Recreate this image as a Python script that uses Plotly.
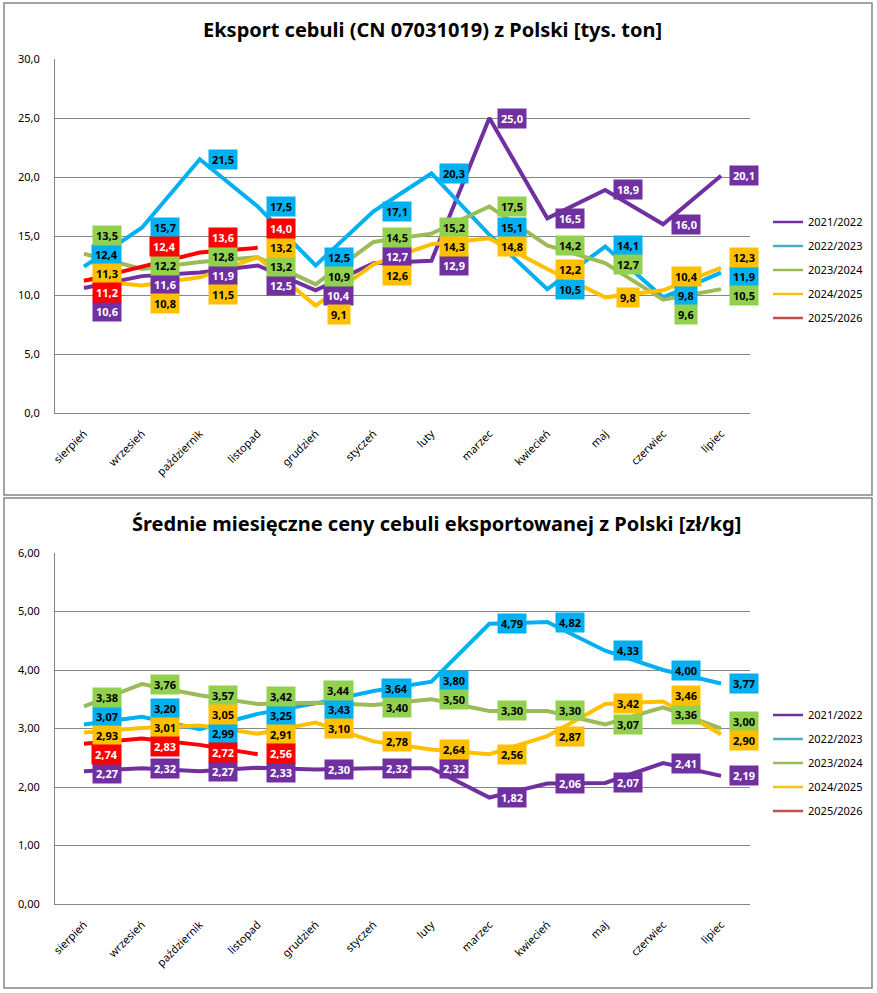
import plotly.graph_objects as go

# ---------------- DATA ----------------
months = ["sierpień", "wrzesień", "październik", "listopad", "grudzień", "styczeń",
          "luty", "marzec", "kwiecień", "maj", "czerwiec", "lipiec"]
seasons = ["2021/2022", "2022/2023", "2023/2024", "2024/2025", "2025/2026"]

export_2021_22 = [10.6, 11.6, 11.9, 12.5, 10.4, 12.7, 12.9, 25.0, 16.5, 18.9, 16.0, 20.1]
export_2022_23 = [12.4, 15.7, 21.5, 17.5, 12.5, 17.1, 20.3, 15.1, 10.5, 14.1, 9.8, 11.9]
export_2023_24 = [13.5, 12.2, 12.8, 13.2, 10.9, 14.5, 15.2, 17.5, 14.2, 12.7, 9.6, 10.5]
export_2024_25 = [11.3, 10.8, 11.5, 13.2, 9.1, 12.6, 14.3, 14.8, 12.2, 9.8, 10.4, 12.3]
export_2025_26 = [11.2, 12.4, 13.6, 14.0]

price_2021_22 = [2.27, 2.32, 2.27, 2.33, 2.30, 2.32, 2.32, 1.82, 2.06, 2.07, 2.41, 2.19]
price_2022_23 = [3.07, 3.20, 2.99, 3.25, 3.43, 3.64, 3.80, 4.79, 4.82, 4.33, 4.00, 3.77]
price_2023_24 = [3.38, 3.76, 3.57, 3.42, 3.44, 3.40, 3.50, 3.30, 3.30, 3.07, 3.36, 3.00]
price_2024_25 = [2.93, 3.01, 3.05, 2.91, 3.10, 2.78, 2.64, 2.56, 2.87, 3.42, 3.46, 2.90]
price_2025_26 = [2.74, 2.83, 2.72, 2.56]

export_ticks = [0, 5, 10, 15, 20, 25, 30]
price_ticks = [0, 1, 2, 3, 4, 5, 6]

title_export = "Eksport cebuli (CN 07031019) z Polski [tys. ton]"
title_price = "Średnie miesięczne ceny cebuli eksportowanej z Polski [zł/kg]"

export_series = [export_2021_22, export_2022_23, export_2023_24, export_2024_25, export_2025_26]
price_series = [price_2021_22, price_2022_23, price_2023_24, price_2024_25, price_2025_26]

# ---------------- STYLE ----------------
W, H = 877, 993
line_colors = ["#7030a0", "#00b0f0", "#9bbb59", "#ffc000", "#ff0000"]
box_colors = ["#7030a0", "#00b0f0", "#92d050", "#ffc000", "#ff0000"]
text_colors = ["white", "black", "black", "black", "white"]
legend_colors = ["#7030a0", "#4bacc6", "#9bbb59", "#f2c314", "#c0504d"]
grid_color = "#868686"
FONT = "Noto Sans"


def px_x(x):
    return x / W


def px_y(y):
    return 1 - y / H


# plot areas in pixels
PX_L, PX_R = 55, 750
TOP_Y0, TOP_Y1 = 413, 59      # pixel rows of 0 and max
BOT_Y0, BOT_Y1 = 904, 553
LABEL_H = 19.0                # stacked label height (px)
LABEL_DX = 23                 # label offset right of the point (px)


def place_labels(series, ppu, h=LABEL_H):
    """Return label y (data units) per series/point, stacked to avoid overlap."""
    out = [[None] * len(s) for s in series]
    ncat = max(len(s) for s in series)
    for i in range(ncat):
        items = [(s, vals[i] * ppu) for s, vals in enumerate(series) if i < len(vals)]
        items.sort(key=lambda t: (-t[1], -t[0]))
        clusters = [[it] for it in items]

        def positions(cl):
            m = sum(p for _, p in cl) / len(cl)
            top = m + (len(cl) - 1) / 2 * h
            return [top - k * h for k in range(len(cl))]

        changed = True
        while changed:
            changed = False
            for k in range(len(clusters) - 1):
                a = positions(clusters[k])[-1]
                b = positions(clusters[k + 1])[0]
                if a - b < h:
                    clusters[k] = clusters[k] + clusters[k + 1]
                    del clusters[k + 1]
                    changed = True
                    break
        for cl in clusters:
            for (s, _), p in zip(cl, positions(cl)):
                out[s][i] = p / ppu
    return out


fig = go.Figure()

panels = [
    dict(series=export_series, xa="x", ya="y", fmt="{:.1f}", legend="legend",
         ppu=(TOP_Y0 - TOP_Y1) / export_ticks[-1]),
    dict(series=price_series, xa="x2", ya="y2", fmt="{:.2f}", legend="legend2",
         ppu=(BOT_Y0 - BOT_Y1) / price_ticks[-1]),
]

annotations = []
for pi, p in enumerate(panels):
    for s, vals in enumerate(p["series"]):
        fig.add_trace(go.Scatter(
            x=months[:len(vals)], y=vals, mode="lines", name=seasons[s],
            line=dict(color=line_colors[s], width=4), showlegend=False,
            xaxis=p["xa"], yaxis=p["ya"], hoverinfo="skip"))
    # legend-only traces
    for s in range(len(seasons)):
        fig.add_trace(go.Scatter(
            x=[None], y=[None], mode="lines", name=seasons[s],
            line=dict(color=legend_colors[s], width=2.5),
            legend=p["legend"], legendgroup=f"g{pi}{s}",
            xaxis=p["xa"], yaxis=p["ya"]))
    ly = place_labels(p["series"], p["ppu"])
    for s, vals in enumerate(p["series"]):
        for i, v in enumerate(vals):
            annotations.append(dict(
                x=months[i], y=ly[s][i], xref=p["xa"], yref=p["ya"],
                text="<b>" + p["fmt"].format(v).replace(".", ",") + "</b>",
                showarrow=False, xshift=LABEL_DX, xanchor="center", yanchor="middle",
                bgcolor=box_colors[s], borderpad=3, height=13,
                font=dict(family=FONT, size=11, color=text_colors[s])))

annotations.append(dict(text="<b>" + title_export + "</b>", x=px_x(432), y=px_y(30),
                        xref="paper", yref="paper", showarrow=False,
                        xanchor="center", yanchor="middle",
                        font=dict(family=FONT, size=20, color="black")))
annotations.append(dict(text="<b>" + title_price + "</b>", x=px_x(436), y=px_y(523),
                        xref="paper", yref="paper", showarrow=False,
                        xanchor="center", yanchor="middle",
                        font=dict(family=FONT, size=20, color="black")))

xcommon = dict(type="category", categoryorder="array", categoryarray=months,
               range=[-0.5, len(months) - 0.5], showgrid=False, showline=True,
               linecolor=grid_color, linewidth=1, tickangle=-45, ticks="",
               ticklabelstandoff=9, automargin=False,
               tickfont=dict(family=FONT, size=11, color="black"), fixedrange=True)
ycommon = dict(showgrid=True, gridcolor=grid_color, gridwidth=1, showline=True,
               linecolor=grid_color, linewidth=1, zeroline=False, ticks="",
               ticklabelstandoff=12, automargin=False,
               tickfont=dict(family=FONT, size=11, color="black"), fixedrange=True)

legcommon = dict(x=px_x(768), xanchor="left", yanchor="middle", bgcolor="rgba(0,0,0,0)",
                 font=dict(family=FONT, size=11, color="black"), itemwidth=30,
                 tracegroupgap=5, traceorder="grouped")

fig.update_layout(
    width=W, height=H, margin=dict(l=0, r=0, t=0, b=0, pad=0, autoexpand=False),
    paper_bgcolor="white", plot_bgcolor="white", separators=", ",
    showlegend=True,
    xaxis=dict(xcommon, domain=[px_x(PX_L), px_x(PX_R)], anchor="y"),
    yaxis=dict(ycommon, domain=[px_y(TOP_Y0), px_y(TOP_Y1)], anchor="x",
               range=[export_ticks[0], export_ticks[-1]], tickvals=export_ticks,
               tickformat=".1f"),
    xaxis2=dict(xcommon, domain=[px_x(PX_L), px_x(PX_R)], anchor="y2"),
    yaxis2=dict(ycommon, domain=[px_y(BOT_Y0), px_y(BOT_Y1)], anchor="x2",
                range=[price_ticks[0], price_ticks[-1]], tickvals=price_ticks,
                tickformat=".2f"),
    legend=dict(legcommon, y=px_y(270)),
    legend2=dict(legcommon, y=px_y(763)),
    annotations=annotations,
    shapes=[
        dict(type="rect", xref="paper", yref="paper", x0=px_x(4), x1=px_x(872),
             y0=px_y(495), y1=px_y(3), line=dict(color=grid_color, width=1.5)),
        dict(type="rect", xref="paper", yref="paper", x0=px_x(4), x1=px_x(872),
             y0=px_y(988), y1=px_y(498), line=dict(color=grid_color, width=1.5)),
    ],
)

fig.write_html("out.html", config={"displayModeBar": False},
               post_script="document.body.style.margin='0';document.body.style.overflow='hidden';")
